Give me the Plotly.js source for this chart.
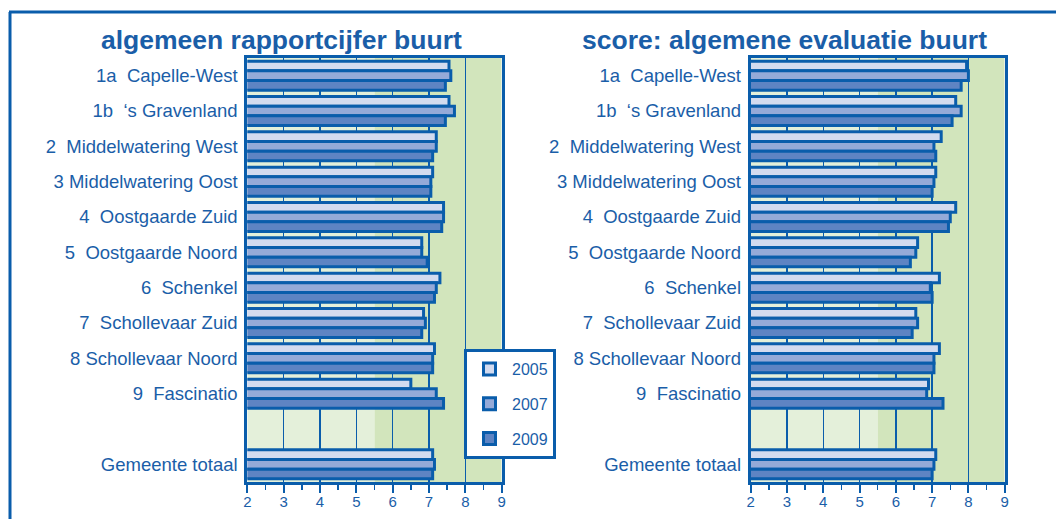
<!DOCTYPE html>
<html>
<head>
<meta charset="utf-8">
<script src="https://cdn.plot.ly/plotly-3.0.1.min.js"></script>
<style>
  html, body { margin:0; padding:0; background:#ffffff; }
  #chart { width:1056px; height:519px; }
</style>
</head>
<body>
<div id="chart"></div>
<script>
// ---- data ----
const categories = [
  "1a\u00a0\u00a0Capelle-West",
  "1b\u00a0\u00a0\u2018s Gravenland",
  "2\u00a0\u00a0Middelwatering West",
  "3 Middelwatering Oost",
  "4\u00a0\u00a0Oostgaarde Zuid",
  "5\u00a0\u00a0Oostgaarde Noord",
  "6\u00a0\u00a0Schenkel",
  "7\u00a0\u00a0Schollevaar Zuid",
  "8 Schollevaar Noord",
  "9\u00a0\u00a0Fascinatio",
  "Gemeente totaal"
];
const gapSlot = " ";
const years = ["2005", "2007", "2009"];

const rapport2005 = [7.55, 7.55, 7.2, 7.1, 7.4, 6.8, 7.3, 6.85, 7.15, 6.5, 7.1];
const rapport2007 = [7.6, 7.7, 7.2, 7.05, 7.4, 6.8, 7.2, 6.9, 7.1, 7.2, 7.15];
const rapport2009 = [7.45, 7.45, 7.1, 7.05, 7.35, 6.95, 7.15, 6.8, 7.1, 7.4, 7.1];

const score2005 = [7.95, 7.65, 7.25, 7.1, 7.65, 6.6, 7.2, 6.55, 7.2, 6.9, 7.1];
const score2007 = [8.0, 7.8, 7.05, 7.05, 7.5, 6.55, 6.95, 6.6, 7.05, 6.85, 7.05];
const score2009 = [7.8, 7.55, 7.1, 7.0, 7.45, 6.4, 7.0, 6.45, 7.05, 7.3, 7.0];

const titleLeft = "algemeen rapportcijfer buurt";
const titleRight = "score: algemene evaluatie buurt";
const tickVals = [2, 3, 4, 5, 6, 7, 8, 9];
const bandSplit = 5.5;

// ---- styles ----
const BLUE = "#0a5dab";
const TEXT = "#1a5ea8";
const FILLS = ["#d3dbef", "#95aad8", "#5e84c3"];
const LIGHTGREEN = "#e4f0da";
const DARKGREEN = "#d2e5bc";
const FONT = "Liberation Sans, Arial, sans-serif";

const catOrder = categories.slice(0, 10).concat([gapSlot, categories[10]]);

function mkTrace(vals, i, xa, ya, show) {
  return {
    type: "bar", orientation: "h",
    x: vals, y: categories,
    name: years[i],
    xaxis: xa, yaxis: ya,
    legendgroup: "g" + i,
    showlegend: show,
    marker: { color: FILLS[i], line: { color: BLUE, width: 3 } },
    hoverinfo: "skip"
  };
}

const traces = [
  mkTrace(rapport2005, 0, "x", "y", true),
  mkTrace(rapport2007, 1, "x", "y", true),
  mkTrace(rapport2009, 2, "x", "y", true),
  mkTrace(score2005, 0, "x2", "y2", false),
  mkTrace(score2007, 1, "x2", "y2", false),
  mkTrace(score2009, 2, "x2", "y2", false)
];

const W = 1056, H = 519;
const px = v => v / W;
const py = v => 1 - v / H;

function xaxis(domain, anchor) {
  return {
    domain: domain, anchor: anchor,
    range: [2, 9], fixedrange: true,
    tickvals: tickVals,
    ticks: "outside", ticklen: 8, tickwidth: 2, tickcolor: BLUE,
    ticklabelstandoff: -4,
    minor: { dtick: 0.5, tick0: 2, ticks: "outside", ticklen: 5, tickwidth: 1.5, tickcolor: BLUE, showgrid: false },
    showgrid: true, gridcolor: BLUE, gridwidth: 1.5,
    showline: true, mirror: true, linecolor: BLUE, linewidth: 3,
    zeroline: false,
    tickfont: { family: FONT, size: 15, color: TEXT },
    automargin: false
  };
}
function yaxis(domain, anchor) {
  return {
    domain: domain, anchor: anchor,
    type: "category", categoryorder: "array", categoryarray: catOrder,
    range: [11.5, -0.5], fixedrange: true,
    showgrid: false, zeroline: false,
    showline: true, mirror: true, linecolor: BLUE, linewidth: 3,
    ticks: "", ticklabelstandoff: 3,
    tickfont: { family: FONT, size: 18.5, color: TEXT },
    automargin: false
  };
}

const yDom = [py(482), py(58)];
const layout = {
  width: W, height: H,
  margin: { l: 0, r: 0, t: 0, b: 0, pad: 0 },
  paper_bgcolor: "#ffffff", plot_bgcolor: "rgba(0,0,0,0)",
  barmode: "group", bargap: 0.18, bargroupgap: 0,
  font: { family: FONT, color: TEXT },
  xaxis: xaxis([px(247.3), px(501.7)], "y"),
  yaxis: yaxis(yDom, "x"),
  xaxis2: xaxis([px(750.7), px(1004.7)], "y2"),
  yaxis2: yaxis(yDom, "x2"),
  showlegend: true,
  legend: {
    x: px(464), y: py(349), xanchor: "left", yanchor: "top",
    bgcolor: "#ffffff", bordercolor: BLUE, borderwidth: 3,
    font: { family: FONT, size: 16, color: TEXT },
    traceorder: "grouped", tracegroupgap: 11,
    itemwidth: 35
  },
  shapes: [
    { type: "rect", xref: "x", yref: "y domain", x0: 2, x1: bandSplit, y0: 0, y1: 1, fillcolor: LIGHTGREEN, line: { width: 0 }, layer: "below" },
    { type: "rect", xref: "x", yref: "y domain", x0: bandSplit, x1: 9, y0: 0, y1: 1, fillcolor: DARKGREEN, line: { width: 0 }, layer: "below" },
    { type: "rect", xref: "x2", yref: "y2 domain", x0: 2, x1: bandSplit, y0: 0, y1: 1, fillcolor: LIGHTGREEN, line: { width: 0 }, layer: "below" },
    { type: "rect", xref: "x2", yref: "y2 domain", x0: bandSplit, x1: 9, y0: 0, y1: 1, fillcolor: DARKGREEN, line: { width: 0 }, layer: "below" },
    // outer frame
    { type: "line", xref: "paper", yref: "paper", x0: px(9), x1: 1.01, y0: py(12), y1: py(12), line: { color: BLUE, width: 3 } },
    { type: "line", xref: "paper", yref: "paper", x0: px(10), x1: px(10), y0: py(12), y1: -0.02, line: { color: BLUE, width: 3 } }
  ],
  annotations: [
    { text: "<b>" + titleLeft + "</b>", xref: "paper", yref: "paper", x: px(281), y: py(40), xanchor: "center", yanchor: "middle", showarrow: false, font: { family: FONT, size: 26.5, color: TEXT } },
    { text: "<b>" + titleRight + "</b>", xref: "paper", yref: "paper", x: px(784), y: py(40), xanchor: "center", yanchor: "middle", showarrow: false, font: { family: FONT, size: 26.5, color: TEXT } }
  ]
};

Plotly.newPlot("chart", traces, layout, { staticPlot: true, displayModeBar: false });
</script>
</body>
</html>
